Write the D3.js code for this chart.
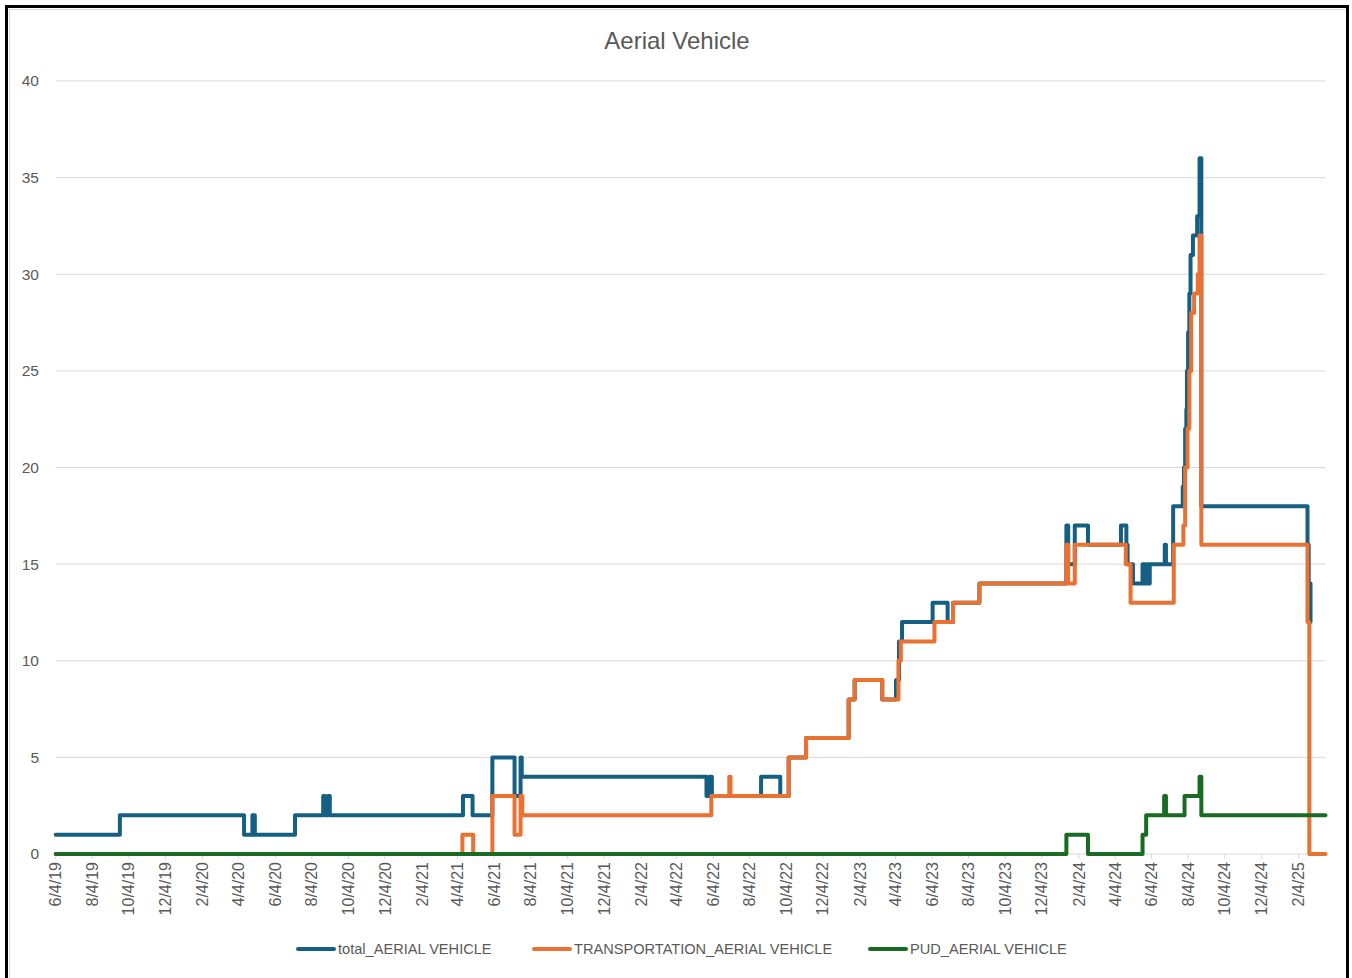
<!DOCTYPE html>
<html>
<head>
<meta charset="utf-8">
<script src="https://cdn.jsdelivr.net/npm/d3@7"></script>
<style>
  html, body { margin: 0; padding: 0; background: #fff; }
  svg { display: block; }
  text { font-family: "Liberation Sans", Arial, sans-serif; fill: #595959; }
</style>
</head>
<body>
<svg id="chart" width="1352" height="978"></svg>
<script>
// ---------------- DATA ----------------
const chartTitle = "Aerial Vehicle";
const seriesNames = ["total_AERIAL VEHICLE", "TRANSPORTATION_AERIAL VEHICLE", "PUD_AERIAL VEHICLE"];
const seriesColors = ["#156082", "#E97132", "#196B24"];

const xTickLabels = ["6/4/19","8/4/19","10/4/19","12/4/19","2/4/20","4/4/20","6/4/20","8/4/20","10/4/20","12/4/20",
  "2/4/21","4/4/21","6/4/21","8/4/21","10/4/21","12/4/21","2/4/22","4/4/22","6/4/22","8/4/22","10/4/22","12/4/22",
  "2/4/23","4/4/23","6/4/23","8/4/23","10/4/23","12/4/23","2/4/24","4/4/24","6/4/24","8/4/24","10/4/24","12/4/24","2/4/25"];
const yTicks = [0, 5, 10, 15, 20, 25, 30, 35, 40];
const xDomain = ["2019-06-04", "2025-03-21"];

// step change points: [date, value]
const totalSeries = [
  ["2019-06-04",1],["2019-09-19",2],["2020-04-13",1],["2020-04-27",2],["2020-05-01",1],["2020-07-07",2],
  ["2020-08-23",3],["2020-08-26",2],["2020-08-31",3],["2020-09-03",2],["2021-04-13",3],["2021-04-29",2],
  ["2021-06-01",5],["2021-07-08",3],["2021-07-18",5],["2021-07-20",4],["2022-05-24",3],["2022-05-29",4],
  ["2022-06-02",3],["2022-08-23",4],["2022-09-24",3],["2022-10-08",5],["2022-11-06",6],["2023-01-16",8],
  ["2023-01-26",9],["2023-03-13",8],["2023-04-05",9],["2023-04-10",11],["2023-04-15",12],["2023-06-05",13],
  ["2023-06-30",12],["2023-07-09",13],["2023-08-22",14],["2024-01-14",17],["2024-01-17",15],["2024-01-28",17],
  ["2024-02-19",16],["2024-04-14",17],["2024-04-23",16],["2024-04-25",15],["2024-05-04",14],["2024-05-20",15],
  ["2024-05-24",14],["2024-05-26",15],["2024-05-30",14],["2024-06-01",15],["2024-06-26",16],["2024-06-28",15],
  ["2024-07-10",18],["2024-07-26",19],["2024-07-28",20],["2024-07-30",22],["2024-08-01",23],["2024-08-02",25],
  ["2024-08-04",27],["2024-08-06",29],["2024-08-08",31],["2024-08-12",32],["2024-08-19",33],["2024-08-23",36],
  ["2024-08-26",18],["2025-02-19",16],["2025-02-21",14],["2025-02-24",12]
];
const transportationSeries = [
  ["2019-06-04",0],["2021-04-12",1],["2021-04-30",0],["2021-06-01",3],["2021-07-08",1],["2021-07-18",3],
  ["2021-07-21",2],["2022-06-01",3],["2022-07-01",4],["2022-07-03",3],["2022-10-08",5],["2022-11-06",6],
  ["2023-01-16",8],["2023-01-26",9],["2023-03-13",8],["2023-04-09",10],["2023-04-13",11],["2023-06-08",12],
  ["2023-07-09",13],["2023-08-22",14],["2024-01-14",16],["2024-01-17",14],["2024-01-28",16],["2024-04-22",15],
  ["2024-04-30",13],["2024-07-11",16],["2024-07-27",17],["2024-07-30",20],["2024-08-03",22],["2024-08-06",25],
  ["2024-08-09",28],["2024-08-14",29],["2024-08-20",30],["2024-08-23",32],["2024-08-26",16],["2025-02-19",12],
  ["2025-02-22",0],["2025-03-21",0]
];
const pudSeries = [
  ["2019-06-04",0],["2024-01-14",1],["2024-02-19",0],["2024-05-20",1],["2024-05-26",2],["2024-06-25",3],
  ["2024-06-28",2],["2024-07-29",3],["2024-08-23",4],["2024-08-26",2],["2025-03-21",2]
];

// ---------------- CHART ----------------
const svg = d3.select("#chart");
const W = 1352, H = 978;
const plot = { left: 55.7, right: 1325.5, top: 81, bottom: 854 };

// frame
svg.append("rect").attr("x", 0).attr("y", 0).attr("width", W).attr("height", H).attr("fill", "#fff");
svg.append("rect").attr("x", 9.5).attr("y", 9.5).attr("width", 1337).attr("height", 980)
  .attr("fill", "none").attr("stroke", "#d9d9d9").attr("stroke-width", 1);
svg.append("rect").attr("x", 6.5).attr("y", 6.5).attr("width", 1341).attr("height", 985)
  .attr("fill", "none").attr("stroke", "#000").attr("stroke-width", 3);

const parseISO = d3.timeParse("%Y-%m-%d");
const parseTick = d3.timeParse("%m/%d/%y");

const x = d3.scaleTime().domain(xDomain.map(parseISO)).range([plot.left, plot.right]);
const y = d3.scaleLinear().domain([0, 40]).range([plot.bottom, plot.top]);

// gridlines
svg.append("g").selectAll("line").data(yTicks.filter(v => v > 0)).join("line")
  .attr("x1", plot.left).attr("x2", plot.right)
  .attr("y1", d => y(d)).attr("y2", d => y(d))
  .attr("stroke", "#d9d9d9").attr("stroke-width", 1);

// y labels
svg.append("g").selectAll("text").data(yTicks).join("text")
  .attr("x", 39).attr("y", d => y(d)).attr("dy", "0.35em")
  .attr("text-anchor", "end").attr("font-size", 15.5)
  .text(d => d);

// x axis
const tickDates = xTickLabels.map(parseTick);
const xAxisG = svg.append("g").attr("transform", `translate(0,${plot.bottom})`);
xAxisG.append("line").attr("x1", plot.left).attr("x2", plot.right).attr("y1", 0).attr("y2", 0)
  .attr("stroke", "#d9d9d9").attr("stroke-width", 1);
xAxisG.selectAll("line.tick").data(tickDates).join("line").attr("class", "tick")
  .attr("x1", d => x(d)).attr("x2", d => x(d)).attr("y1", 0).attr("y2", 5)
  .attr("stroke", "#d9d9d9").attr("stroke-width", 1);
xAxisG.selectAll("text").data(xTickLabels).join("text")
  .attr("transform", (d, i) => `translate(${x(tickDates[i])},8) rotate(-90)`)
  .attr("text-anchor", "end").attr("dy", "0.35em").attr("font-size", 16)
  .text(d => d);

// lines
const line = d3.line()
  .x(d => x(parseISO(d[0])))
  .y(d => y(d[1]))
  .curve(d3.curveStepAfter);

const allSeries = [totalSeries, transportationSeries, pudSeries];
allSeries.forEach((s, i) => {
  svg.append("path").datum(s)
    .attr("d", line)
    .attr("fill", "none")
    .attr("stroke", seriesColors[i])
    .attr("stroke-width", 4)
    .attr("stroke-linejoin", "round")
    .attr("stroke-linecap", "round");
});

// title
svg.append("text").attr("x", 677).attr("y", 41).attr("dy", "0.35em")
  .attr("text-anchor", "middle").attr("font-size", 24).text(chartTitle);

// legend
const legendX = [296, 532, 868];
const legendY = 949;
const lg = svg.append("g");
seriesNames.forEach((name, i) => {
  lg.append("line").attr("x1", legendX[i] + 2).attr("x2", legendX[i] + 38)
    .attr("y1", legendY).attr("y2", legendY)
    .attr("stroke", seriesColors[i]).attr("stroke-width", 4).attr("stroke-linecap", "round");
  lg.append("text").attr("x", legendX[i] + 42).attr("y", legendY).attr("dy", "0.35em")
    .attr("font-size", 14.6).text(name);
});
</script>
</body>
</html>
